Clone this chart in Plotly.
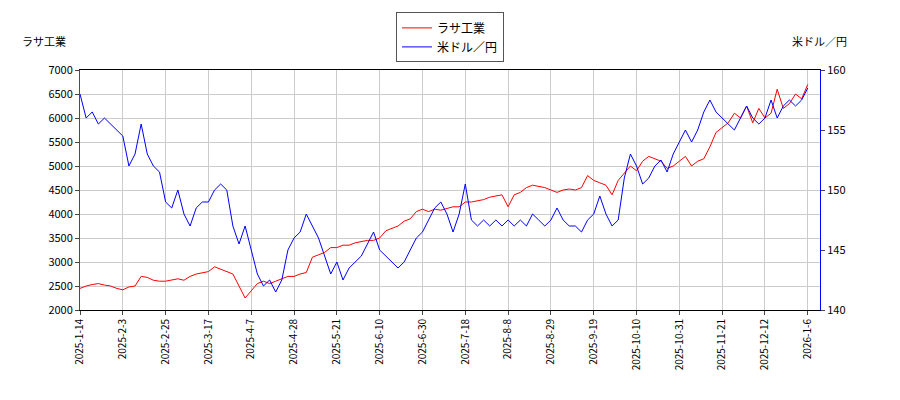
import plotly.graph_objects as go

# ticks every 14 trading days
tick_labels = ['2025-1-14', '2025-2-3', '2025-2-25', '2025-3-17', '2025-4-7', '2025-4-28',
               '2025-5-21', '2025-6-10', '2025-6-30', '2025-7-18', '2025-8-8', '2025-8-29',
               '2025-9-19', '2025-10-10', '2025-10-31', '2025-11-21', '2025-12-12', '2026-1-6']

# ラサ工業 close, one value every 2 trading days
rasa = [2450, 2500, 2530, 2550, 2520, 2500, 2450,
        2420, 2480, 2500, 2700, 2680, 2620, 2600,
        2600, 2620, 2650, 2620, 2700, 2750, 2780,
        2800, 2900, 2850, 2800, 2750, 2500, 2250,
        2400, 2550, 2600, 2550, 2600, 2650, 2700,
        2700, 2750, 2780, 3100, 3150, 3200, 3300,
        3300, 3350, 3350, 3400, 3420, 3450, 3450,
        3500, 3650, 3700, 3750, 3850, 3900, 4050,
        4100, 4050, 4100, 4080, 4120, 4150, 4150,
        4250, 4250, 4280, 4300, 4350, 4380, 4400,
        4150, 4400, 4450, 4550, 4600, 4580, 4550,
        4500, 4450, 4500, 4520, 4500, 4550, 4800,
        4700, 4650, 4600, 4400, 4700, 4850, 5000,
        4900, 5100, 5200, 5150, 5100, 4950, 5000,
        5100, 5200, 5000, 5100, 5150, 5400, 5700,
        5800, 5900, 6100, 6000, 6250, 5900, 6200,
        6000, 6100, 6600, 6200, 6300, 6500, 6400,
        6700]

# 米ドル／円
usdjpy = [158.0, 156.0, 156.5, 155.5, 156.0, 155.5, 155.0,
          154.5, 152.0, 153.0, 155.5, 153.0, 152.0, 151.5,
          149.0, 148.5, 150.0, 148.0, 147.0, 148.5, 149.0,
          149.0, 150.0, 150.5, 150.0, 147.0, 145.5, 147.0,
          145.0, 143.0, 142.0, 142.5, 141.5, 142.5, 145.0,
          146.0, 146.5, 148.0, 147.0, 146.0, 144.5, 143.0,
          144.0, 142.5, 143.5, 144.0, 144.5, 145.5, 146.5,
          145.0, 144.5, 144.0, 143.5, 144.0, 145.0, 146.0,
          146.5, 147.5, 148.5, 149.0, 148.0, 146.5, 148.0,
          150.5, 147.5, 147.0, 147.5, 147.0, 147.5, 147.0,
          147.5, 147.0, 147.5, 147.0, 148.0, 147.5, 147.0,
          147.5, 148.5, 147.5, 147.0, 147.0, 146.5, 147.5,
          148.0, 149.5, 148.0, 147.0, 147.5, 151.0, 153.0,
          152.0, 150.5, 151.0, 152.0, 152.5, 151.5, 153.0,
          154.0, 155.0, 154.0, 155.0, 156.5, 157.5, 156.5,
          156.0, 155.5, 155.0, 156.0, 157.0, 156.0, 155.5,
          156.0, 157.5, 156.0, 157.0, 157.5, 157.0, 157.5,
          158.5]

x = list(range(0, 2 * len(rasa), 2))
tickvals = list(range(0, 14 * len(tick_labels), 14))

fig = go.Figure()
fig.add_trace(go.Scatter(x=x, y=rasa, mode='lines', name='ラサ工業',
                         line=dict(color='red', width=1)))
fig.add_trace(go.Scatter(x=x, y=usdjpy, mode='lines', name='米ドル／円',
                         line=dict(color='blue', width=1), yaxis='y2'))

font = dict(family='Noto Sans CJK JP', size=11, color='black')
fig.update_layout(
    width=900, height=400, margin=dict(l=72, r=88, t=62, b=98, autoexpand=False),
    plot_bgcolor='white', paper_bgcolor='white', font=font,
    xaxis=dict(range=[0, 242], tickvals=tickvals, ticktext=tick_labels, tickangle=-90,
               showgrid=True, gridcolor='#cccccc', ticks='outside', ticklen=4,
               showline=True, linecolor='black', mirror=True, tickfont=dict(size=10)),
    yaxis=dict(range=[2000, 7000], dtick=500, showgrid=True, gridcolor='#cccccc',
               ticks='outside', ticklen=4, showline=True, linecolor='red'),
    yaxis2=dict(range=[140, 160], dtick=5, overlaying='y', side='right', showgrid=False,
                ticks='outside', ticklen=4, showline=True, linecolor='blue'),
    legend=dict(x=0.5, y=1.24, xanchor='center', yanchor='top', bordercolor='#555555',
                borderwidth=1, bgcolor='white', font=dict(size=12)),
    annotations=[
        dict(text='ラサ工業', x=0, xref='paper', y=1.08, yref='paper', xanchor='right',
             yanchor='bottom', showarrow=False, xshift=-12),
        dict(text='米ドル／円', x=1, xref='paper', y=1.08, yref='paper', xanchor='left',
             yanchor='bottom', showarrow=False, xshift=-30),
    ],
)
fig.write_html('out.html')
